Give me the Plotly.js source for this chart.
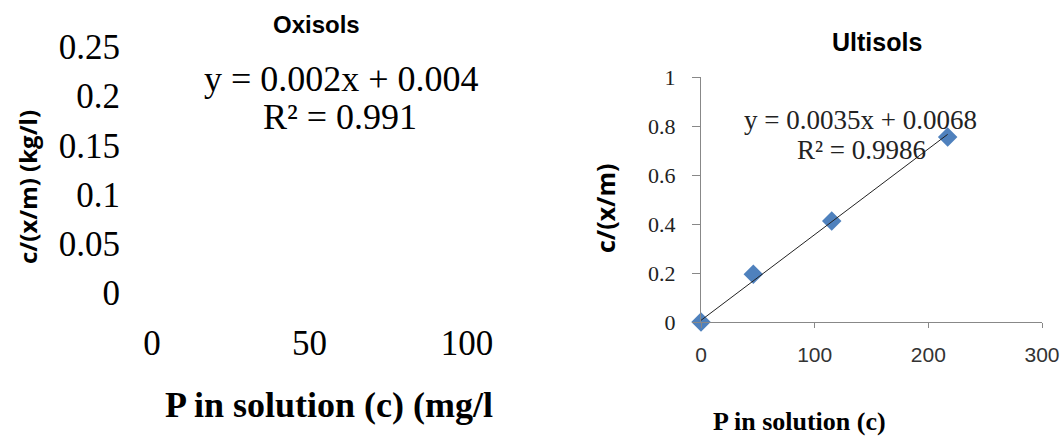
<!DOCTYPE html>
<html>
<head>
<meta charset="utf-8">
<script src="https://cdn.plot.ly/plotly-3.0.1.min.js"></script>
<style>html,body{margin:0;padding:0;background:#fff;}#chart{width:1061px;height:438px;}</style>
</head>
<body>
<div id="chart"></div>
<script>
// ---- data ----
var oxisolsX = [];
var oxisolsY = [];
var oxisolsXTicks = [0, 50, 100];
var oxisolsYTicks = [0, 0.05, 0.1, 0.15, 0.2, 0.25];
var oxisolsEquation = "y = 0.002x + 0.004";
var oxisolsR2 = "R² = 0.991";

var ultisolsX = [0, 46, 115, 217];
var ultisolsY = [0, 0.195, 0.412, 0.755];
var ultisolsTrendX = [0, 217];
var ultisolsTrendY = [0.0068, 0.766];
var ultisolsXTicks = [0, 100, 200, 300];
var ultisolsYTicks = [0, 0.2, 0.4, 0.6, 0.8, 1];
var ultisolsEquation = "y = 0.0035x + 0.0068";
var ultisolsR2 = "R² = 0.9986";

// ---- layout helpers ----
var W = 1061, H = 438;
function px(x) { return x / W; }
function py(y) { return (H - y) / H; }
var serif = "Liberation Serif, Times New Roman, serif";
var sans = "Liberation Sans, Arial, sans-serif";
var boldSans = "Open Sans, Arial, sans-serif";

var traces = [
  {x: oxisolsX, y: oxisolsY, xaxis: 'x', yaxis: 'y', type: 'scatter', mode: 'markers',
   marker: {symbol: 'diamond', color: '#4F81BD', size: 15}, showlegend: false, hoverinfo: 'skip'},
  {x: ultisolsX, y: ultisolsY, xaxis: 'x2', yaxis: 'y2', type: 'scatter', mode: 'markers',
   marker: {symbol: 'diamond', color: '#4F81BD', size: 15}, showlegend: false, cliponaxis: false},
  {x: ultisolsTrendX, y: ultisolsTrendY, xaxis: 'x2', yaxis: 'y2', type: 'scatter', mode: 'lines',
   line: {color: '#222', width: 1}, showlegend: false, hoverinfo: 'skip', cliponaxis: false}
];

var layout = {
  width: W, height: H,
  margin: {l: 0, r: 0, t: 0, b: 0},
  paper_bgcolor: '#fff', plot_bgcolor: 'rgba(0,0,0,0)',
  showlegend: false,
  xaxis: {
    domain: [px(152), px(467)], range: [0, 100], tickvals: oxisolsXTicks,
    showline: false, showgrid: false, zeroline: false,
    ticks: 'outside', ticklen: 19, tickcolor: 'rgba(0,0,0,0)',
    tickfont: {family: serif, size: 35, color: '#000'}, anchor: 'y'
  },
  yaxis: {
    domain: [py(293), py(47)], range: [0, 0.25], tickvals: oxisolsYTicks,
    showline: false, showgrid: false, zeroline: false,
    ticks: 'outside', ticklen: 24, tickcolor: 'rgba(0,0,0,0)',
    tickfont: {family: serif, size: 35, color: '#000'}, anchor: 'x'
  },
  xaxis2: {
    domain: [px(701), px(1042)], range: [0, 300], tickvals: ultisolsXTicks,
    showline: true, linecolor: '#888', linewidth: 1, showgrid: false, zeroline: false,
    ticks: 'outside', ticklen: 5, tickcolor: '#888', ticklabelstandoff: 9,
    tickfont: {family: sans, size: 21, color: '#333'}, anchor: 'y2'
  },
  yaxis2: {
    domain: [py(322), py(77)], range: [0, 1], tickvals: ultisolsYTicks,
    showline: true, linecolor: '#888', linewidth: 1, showgrid: false, zeroline: false,
    ticks: 'outside', ticklen: 8, tickcolor: '#888', ticklabelstandoff: 12,
    tickfont: {family: serif, size: 22, color: '#222'}, anchor: 'x2'
  },
  annotations: [
    {text: '<b>Oxisols</b>', x: px(316), y: py(25), xref: 'paper', yref: 'paper',
     xanchor: 'center', yanchor: 'middle', showarrow: false, font: {family: sans, size: 24, color: '#000'}},
    {text: oxisolsEquation, x: px(341), y: py(79), xref: 'paper', yref: 'paper',
     xanchor: 'center', yanchor: 'middle', showarrow: false, font: {family: serif, size: 36, color: '#000'}},
    {text: oxisolsR2, x: px(340), y: py(117), xref: 'paper', yref: 'paper',
     xanchor: 'center', yanchor: 'middle', showarrow: false, font: {family: serif, size: 36, color: '#000'}},
    {text: '<b>c/(x/m) (kg/l)</b>', x: px(27), y: py(187), xref: 'paper', yref: 'paper', textangle: -90,
     xanchor: 'center', yanchor: 'middle', showarrow: false, font: {family: boldSans, size: 24, color: '#000'}},
    {text: '<b>P in solution (c) (mg/l</b>', x: px(163), y: py(405), xref: 'paper', yref: 'paper',
     xanchor: 'left', yanchor: 'middle', showarrow: false, font: {family: serif, size: 36, color: '#000'}},
    {text: '<b>Ultisols</b>', x: px(877), y: py(42), xref: 'paper', yref: 'paper',
     xanchor: 'center', yanchor: 'middle', showarrow: false, font: {family: sans, size: 25, color: '#000'}},
    {text: ultisolsEquation, x: px(860), y: py(120), xref: 'paper', yref: 'paper',
     xanchor: 'center', yanchor: 'middle', showarrow: false, font: {family: serif, size: 27, color: '#222'}},
    {text: ultisolsR2, x: px(861), y: py(150), xref: 'paper', yref: 'paper',
     xanchor: 'center', yanchor: 'middle', showarrow: false, font: {family: serif, size: 27, color: '#222'}},
    {text: '<b>c/(x/m)</b>', x: px(605), y: py(209), xref: 'paper', yref: 'paper', textangle: -90,
     xanchor: 'center', yanchor: 'middle', showarrow: false, font: {family: boldSans, size: 25, color: '#000'}},
    {text: '<b>P in solution (c)</b>', x: px(799), y: py(421), xref: 'paper', yref: 'paper',
     xanchor: 'center', yanchor: 'middle', showarrow: false, font: {family: serif, size: 26, color: '#000'}}
  ]
};

Plotly.newPlot('chart', traces, layout, {displayModeBar: false, staticPlot: true});
</script>
</body>
</html>
